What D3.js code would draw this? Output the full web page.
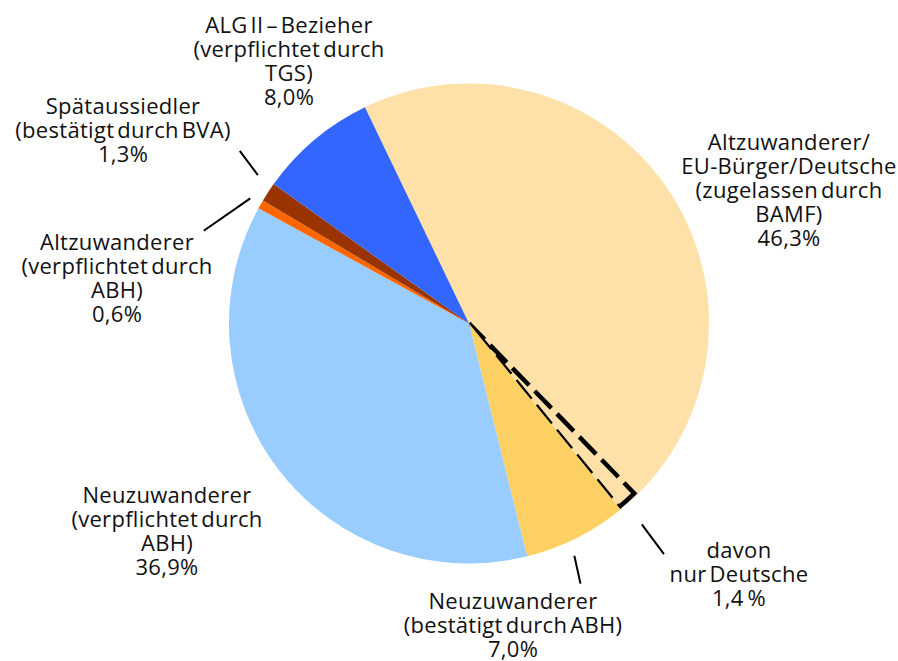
<!DOCTYPE html>
<html>
<head>
<meta charset="utf-8">
<script src="https://cdn.jsdelivr.net/npm/d3@7"></script>
<style>
  body { margin: 0; background: #fff; }
  text { font-family: "Open Sans", "Noto Sans", sans-serif; font-size: 22px; fill: #111;
         letter-spacing: 0.3px; word-spacing: -3px; }
</style>
</head>
<body>
<svg width="898" height="661"></svg>
<script>
// slices, clockwise starting with the big one
let categories = [
  ["Altzuwanderer/", "EU-Bürger/Deutsche", "(zugelassen durch", "BAMF)"],
  ["Neuzuwanderer", "(bestätigt durch ABH)"],
  ["Neuzuwanderer", "(verpflichtet durch", "ABH)"],
  ["Altzuwanderer", "(verpflichtet durch", "ABH)"],
  ["Spätaussiedler", "(bestätigt durch BVA)"],
  ["ALG II – Bezieher", "(verpflichtet durch", "TGS)"]
];
let values = [46.3, 7.0, 36.9, 0.6, 1.3, 8.0];
let colors = ["#FEE1A9", "#FCD062", "#99CCFF", "#FF6600", "#993300", "#3366FF"];

// part of the first slice
let subCategory = ["davon", "nur Deutsche"];
let subValue = 1.4;

let width = 898,
    height = 661,
    cx = 469, cy = 323.5,
    radius = 240;

// label placement (hand tuned like the original)
let labelPos = [
  {x: 789, y: 150},
  {x: 513, y: 609},
  {x: 167, y: 503},
  {x: 117, y: 250},
  {x: 123, y: 114},
  {x: 289, y: 33}
];
let subPos = {x: 739, y: 558};
let lineH = 24;

// leader lines: angle offset (deg) from slice middle + radius, start and end
let leaders = {
  1: [[2.2, 255], [3.4, 283]],
  3: [[0, 252], [-10.5, 281]],
  4: [[1.9, 258], [3.8, 287]]
};
let subLeader = [[1, 265], [1.5, 302]];

let fmt = v => d3.format(".1f")(v).replace(".", ",");

let svg = d3.select("svg");
let g = svg.append("g").attr("transform", `translate(${cx},${cy})`);

let start = -25.7 * Math.PI / 180;
let pie = d3.pie().sort(null).value(d => d)
  .startAngle(start).endAngle(start + 2 * Math.PI);
let arcs = pie(values);
let arc = d3.arc().innerRadius(0).outerRadius(radius);

let total = d3.sum(values);
let subArc = {
  startAngle: arcs[0].endAngle - subValue / total * 2 * Math.PI,
  endAngle: arcs[0].endAngle
};

let polar = (a, r) => [Math.sin(a) * r, -Math.cos(a) * r];
let rad = d => d * Math.PI / 180;

// first slice, then the dashed part, then the others over it
g.append("path")
  .attr("d", arc(arcs[0]))
  .attr("fill", colors[0]);

g.append("path")
  .attr("d", d3.arc().innerRadius(0).outerRadius(radius - 3)(subArc))
  .attr("fill", "none")
  .attr("stroke", "#000")
  .attr("stroke-width", 4.5)
  .attr("stroke-dasharray", "24,8");

g.selectAll("path.slice")
  .data(arcs.slice(1))
  .enter().append("path")
    .attr("class", "slice")
    .attr("d", arc)
    .attr("fill", (d, i) => colors[i + 1]);

// leader lines
let leader = (mid, pts) => {
  let [p1, p2] = pts.map(([da, r]) => polar(mid + rad(da), r));
  g.append("line")
    .attr("x1", p1[0]).attr("y1", p1[1])
    .attr("x2", p2[0]).attr("y2", p2[1])
    .attr("stroke", "#000").attr("stroke-width", 2);
};
Object.keys(leaders).forEach(k => {
  let d = arcs[k];
  leader((d.startAngle + d.endAngle) / 2, leaders[k]);
});
leader((subArc.startAngle + subArc.endAngle) / 2, subLeader);

// labels
let drawLabel = (lines, pos) => {
  let t = svg.append("text")
    .attr("text-anchor", "middle")
    .attr("x", pos.x).attr("y", pos.y);
  lines.forEach((s, i) => {
    t.append("tspan")
      .attr("x", pos.x)
      .attr("dy", i === 0 ? 0 : lineH)
      .text(s);
  });
};

categories.forEach((c, i) => {
  drawLabel(c.concat([fmt(values[i]) + "%"]), labelPos[i]);
});
// the original keeps a small gap before the percent sign here
drawLabel(subCategory.concat([fmt(subValue) + "\u2009%"]), subPos);
</script>
</body>
</html>
